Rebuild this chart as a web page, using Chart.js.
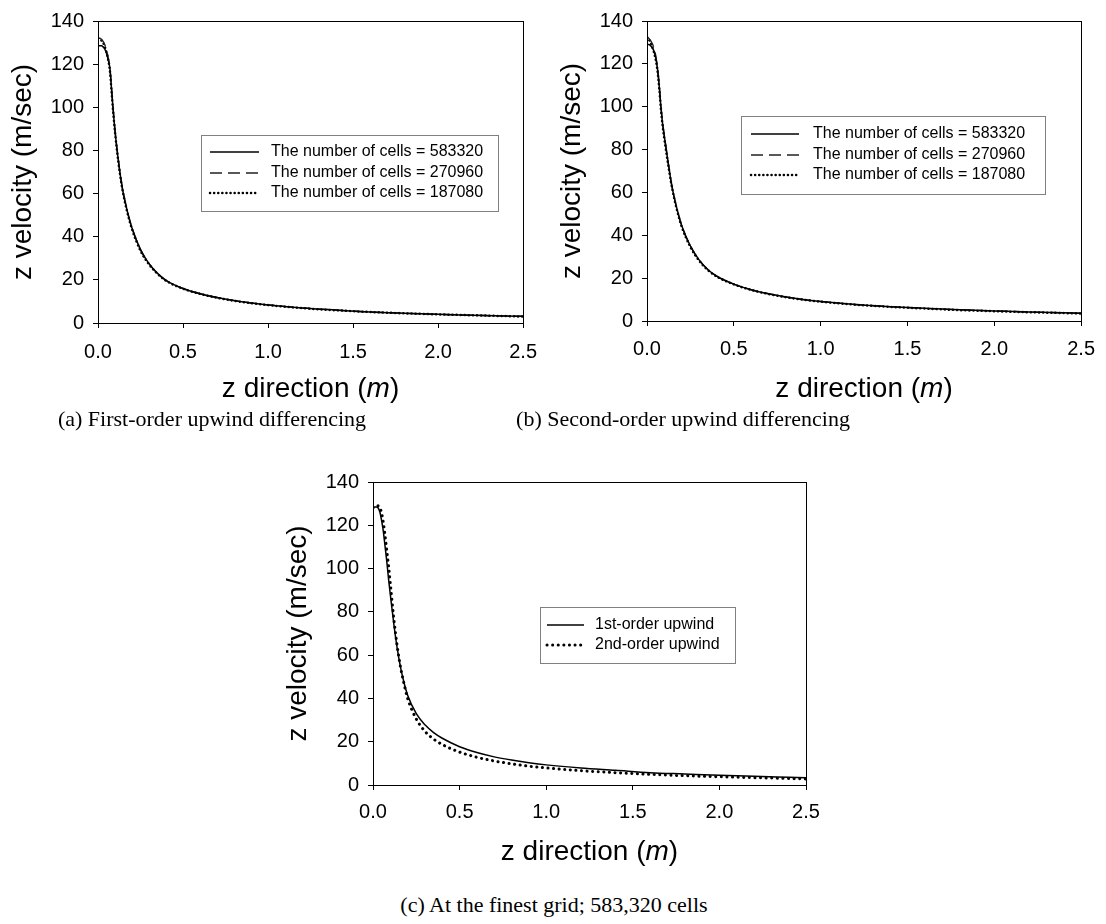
<!DOCTYPE html>
<html>
<head>
<meta charset="utf-8">
<script src="https://cdn.jsdelivr.net/npm/chart.js@4/dist/chart.umd.min.js"></script>
<style>
  body { margin: 0; background: #fff; width: 1106px; height: 924px; position: relative; overflow: hidden; }
  canvas { position: absolute; }
  .caption { position: absolute; font-family: 'Liberation Serif', 'Times New Roman', serif; font-size: 22px; color: #000; text-align: center; white-space: nowrap; transform: translateX(-50%); }
</style>
</head>
<body>
<canvas id="chartA" width="549" height="410" style="left:0;top:0"></canvas>
<canvas id="chartB" width="557" height="410" style="left:549px;top:0"></canvas>
<canvas id="chartC" width="560" height="440" style="left:270px;top:440px"></canvas>
<div class="caption" style="left:212px;top:406px">(a) First-order upwind differencing</div>
<div class="caption" style="left:683px;top:406px">(b) Second-order upwind differencing</div>
<div class="caption" style="left:554px;top:892px">(c) At the finest grid; 583,320 cells</div>
<script>
// z position along the axis (m)
const zPos = [0, 0.01, 0.02, 0.03, 0.04, 0.05, 0.06, 0.07, 0.08, 0.09, 0.10, 0.12, 0.14, 0.16, 0.18, 0.20,
              0.25, 0.30, 0.35, 0.40, 0.50, 0.60, 0.70, 0.80, 0.90, 1.00, 1.20, 1.40, 1.60, 1.80, 2.00, 2.20, 2.40, 2.50];

// (a) first-order upwind, three grids
const fineA   = [128.5, 128.5, 128.5, 128, 127, 125, 122, 118, 108, 98, 89, 75, 64, 56, 49.5, 44,
                 34, 27.5, 23, 19.8, 16, 13.6, 11.8, 10.4, 9.3, 8.4, 7.0, 6.0, 5.1, 4.5, 4.0, 3.6, 3.2, 3.1];
const mediumA = [132, 132, 131.5, 130.5, 129, 126.5, 123, 118.5, 108.5, 98.5, 89.5, 75.5, 64, 56, 49.5, 44,
                 34, 27.5, 23, 19.8, 16, 13.6, 11.8, 10.4, 9.3, 8.4, 7.0, 6.0, 5.1, 4.5, 4.0, 3.6, 3.2, 3.1];
const coarseA = [132, 131.5, 131, 130, 128, 125.5, 122, 117, 107, 97, 88.5, 74.5, 63.5, 55.5, 49, 43.5,
                 33.5, 27.2, 22.8, 19.6, 15.9, 13.5, 11.7, 10.3, 9.2, 8.3, 6.9, 5.9, 5.1, 4.5, 4.0, 3.6, 3.2, 3.0];

// (b) second-order upwind, three grids
const fineB   = [129, 129, 128.5, 127.5, 126, 123, 118, 110, 100, 92, 86, 75, 64.5, 56.5, 50, 44.5,
                 35, 28.5, 24, 21, 17.2, 14.6, 12.7, 11.2, 10, 9.1, 7.7, 6.7, 5.9, 5.2, 4.7, 4.2, 3.8, 3.6];
const mediumB = [132.5, 132, 131, 129.5, 127.5, 124, 118.5, 110.5, 100.5, 92.5, 86.5, 75, 64.5, 56.5, 50, 44.5,
                 35, 28.5, 24, 21, 17.2, 14.6, 12.7, 11.2, 10, 9.1, 7.7, 6.7, 5.9, 5.2, 4.7, 4.2, 3.8, 3.6];
const coarseB = [132.5, 131.5, 130, 128, 125.5, 122, 117, 109, 99, 91, 85, 74, 64, 56, 49.5, 44,
                 34.5, 28.2, 23.8, 20.8, 17.1, 14.5, 12.6, 11.1, 9.9, 9.0, 7.6, 6.6, 5.8, 5.1, 4.6, 4.1, 3.7, 3.5];

// (c) finest grid, both schemes
const firstOrderC  = [128.5, 128.5, 128.5, 128, 126, 122, 117, 110, 103, 95, 88, 74.5, 63, 54, 47, 41.5,
                      33, 27.8, 24.2, 21.6, 17.7, 15, 13, 11.5, 10.3, 9.3, 7.85, 6.8, 5.7, 5.1, 4.5, 4.0, 3.6, 3.4];
const secondOrderC = [128, 128.5, 129, 129, 128, 125.5, 121, 115, 108, 101, 93, 77, 64, 54, 46.5, 40,
                      30.5, 24.8, 21.2, 18.7, 15.2, 12.8, 11.1, 9.8, 8.7, 7.9, 6.6, 5.7, 4.9, 4.3, 3.8, 3.4, 3.0, 2.8];

const cellLabels = ['The number of cells = 583320', 'The number of cells = 270960', 'The number of cells = 187080'];
const schemeLabels = ['1st-order upwind', '2nd-order upwind'];
const yTitle = 'z velocity (m/sec)';

Chart.defaults.font.family = "'Liberation Sans', Arial, sans-serif";
Chart.defaults.color = '#000';

function pts(ys) {
    return zPos.map((z, i) => ({ x: z, y: ys[i] }));
}

const solid  = { borderColor: '#000', borderWidth: 1.5 };
const dashed = { borderColor: '#222', borderWidth: 1.4, borderDash: [12, 6] };
const dotted = { borderColor: '#000', borderWidth: 2.5, borderDash: [0.1, 4], borderCapStyle: 'round' };
const bigDot = { borderColor: '#000', borderWidth: 3, borderDash: [0.1, 5.5], borderCapStyle: 'round' };

// box round the plot, legend inside it, x title with italic m
const framePlugin = {
    id: 'frame',
    afterDraw(chart) {
        const ctx = chart.ctx;
        const a = chart.chartArea;
        const o = chart.options.plugins.frame;
        ctx.save();
        ctx.strokeStyle = '#000';
        ctx.lineWidth = 1;
        ctx.setLineDash([]);
        ctx.strokeRect(Math.round(a.left) + 0.5, Math.round(a.top) + 0.5, Math.round(a.right - a.left), Math.round(a.bottom - a.top));

        // legend
        const lg = o.legend;
        ctx.fillStyle = '#fff';
        ctx.fillRect(lg.x, lg.y, lg.w, lg.h);
        ctx.strokeStyle = '#808080';
        ctx.strokeRect(lg.x + 0.5, lg.y + 0.5, lg.w, lg.h);
        ctx.font = "16px 'Liberation Sans', Arial, sans-serif";
        ctx.textBaseline = 'middle';
        ctx.fillStyle = '#000';
        chart.data.datasets.forEach((ds, i) => {
            const y = lg.rows[i];
            ctx.beginPath();
            ctx.strokeStyle = ds.borderColor;
            ctx.lineWidth = ds.borderWidth;
            ctx.lineCap = ds.borderCapStyle || 'butt';
            ctx.setLineDash(ds.borderDash || []);
            ctx.moveTo(lg.line[0], y);
            ctx.lineTo(lg.line[1], y);
            ctx.stroke();
            ctx.fillText(ds.label, lg.text, y);
        });
        ctx.setLineDash([]);

        // x axis title
        const big = "28px 'Liberation Sans', Arial, sans-serif";
        const ital = "italic 28px 'Liberation Sans', Arial, sans-serif";
        const parts = [['z direction (', big], ['m', ital], [')', big]];
        let total = 0;
        parts.forEach(p => { ctx.font = p[1]; total += ctx.measureText(p[0]).width; });
        let x = (a.left + a.right) / 2 - total / 2;
        ctx.textAlign = 'left';
        parts.forEach(p => {
            ctx.font = p[1];
            ctx.fillText(p[0], x, o.titleY);
            x += ctx.measureText(p[0]).width;
        });
        ctx.restore();
    }
};

function makeChart(id, datasets, lay) {
    const canvas = document.getElementById(id);
    return new Chart(canvas, {
        type: 'line',
        data: { datasets: datasets },
        plugins: [framePlugin],
        options: {
            responsive: false,
            animation: false,
            layout: { padding: { top: lay.top, right: lay.right, left: 0, bottom: 0 } },
            elements: {
                point: { radius: 0 },
                line: { cubicInterpolationMode: 'monotone', fill: false }
            },
            plugins: {
                legend: { display: false },
                tooltip: { enabled: false },
                frame: { legend: lay.legend, titleY: lay.titleY }
            },
            scales: {
                x: {
                    type: 'linear',
                    min: 0, max: 2.5,
                    afterFit(s) { s.height = canvas.height - lay.bottom; },
                    border: { color: '#000', width: 1 },
                    grid: { drawOnChartArea: false, tickLength: 5, color: '#000' },
                    ticks: {
                        stepSize: 0.5, padding: lay.xTickPad, maxRotation: 0,
                        font: { size: 20 },
                        callback: v => v.toFixed(1)
                    }
                },
                y: {
                    min: 0, max: 140,
                    afterFit(s) { s.width = lay.left; },
                    border: { color: '#000', width: 1 },
                    grid: { drawOnChartArea: false, tickLength: 5, color: '#000' },
                    ticks: { stepSize: 20, padding: 9, font: { size: 20 } },
                    title: {
                        display: true, text: yTitle,
                        font: { size: 28 },
                        padding: { top: lay.yTitlePad, bottom: 0 }
                    }
                }
            }
        }
    });
}

makeChart('chartA', [
    Object.assign({ label: cellLabels[0], data: pts(fineA) }, solid),
    Object.assign({ label: cellLabels[1], data: pts(mediumA) }, dashed),
    Object.assign({ label: cellLabels[2], data: pts(coarseA) }, dotted)
], {
    left: 98, right: 22, top: 20, bottom: 323, yTitlePad: 6, titleY: 389, xTickPad: 12,
    legend: { x: 201, y: 135, w: 297, h: 76, rows: [152, 173, 193], line: [210, 259], text: 271 }
});

makeChart('chartB', [
    Object.assign({ label: cellLabels[0], data: pts(fineB) }, solid),
    Object.assign({ label: cellLabels[1], data: pts(mediumB) }, dashed),
    Object.assign({ label: cellLabels[2], data: pts(coarseB) }, dotted)
], {
    left: 98, right: 24, top: 14, bottom: 321, yTitlePad: 6, titleY: 389, xTickPad: 11,
    legend: { x: 192, y: 116, w: 304, h: 78, rows: [134, 155, 175], line: [202, 250], text: 264 }
});

makeChart('chartC', [
    Object.assign({ label: schemeLabels[0], data: pts(firstOrderC) }, solid),
    Object.assign({ label: schemeLabels[1], data: pts(secondOrderC) }, bigDot)
], {
    left: 103, right: 24, top: 42, bottom: 345, yTitlePad: 11, titleY: 412, xTickPad: 10,
    legend: { x: 270, y: 167, w: 195, h: 56, rows: [185, 205], line: [277, 314], text: 325 }
});
</script>
</body>
</html>
